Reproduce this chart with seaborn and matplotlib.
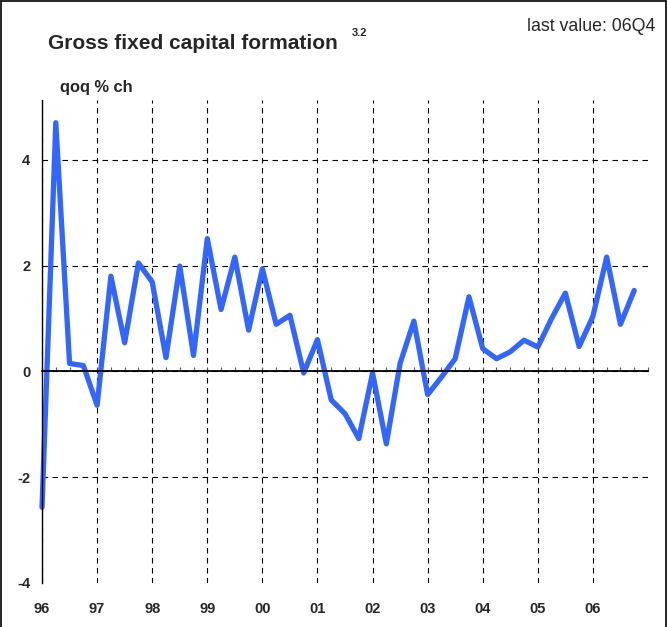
import numpy as np
import pandas as pd
import matplotlib
matplotlib.use('Agg')
import matplotlib.pyplot as plt
from matplotlib.lines import Line2D
from matplotlib.ticker import MultipleLocator, FixedLocator
import seaborn as sns

# ==============================================================================
# 01. Data
# ==============================================================================

quarters = pd.period_range('1996Q1', '2006Q4', freq='Q')
qoq_change = [-2.57, 4.70, 0.15, 0.11, -0.64, 1.80, 0.54, 2.05, 1.69, 0.26,
              1.99, 0.30, 2.51, 1.17, 2.16, 0.78, 1.94, 0.89, 1.06, -0.03,
              0.60, -0.54, -0.80, -1.27, -0.03, -1.37, 0.15, 0.95, -0.44, -0.11,
              0.24, 1.41, 0.43, 0.24, 0.37, 0.59, 0.46, 1.00, 1.48, 0.47,
              1.04, 2.16, 0.89, 1.53]
year_ticks = list(range(1996, 2007))
year_labels = ['96', '97', '98', '99', '00', '01', '02', '03', '04', '05', '06']
y_ticks = [-4, -2, 0, 2, 4]

df = pd.DataFrame({'t': quarters.year + (quarters.quarter - 1) / 4, 'value': qoq_change})

# ==============================================================================
# 02. Plot
# ==============================================================================

sns.set_style('white')
plt.rcParams['font.family'] = ['Liberation Sans', 'DejaVu Sans']
plt.rcParams['axes.unicode_minus'] = False

fig = plt.figure(figsize=(6.67, 6.27), dpi=100)
ax = fig.add_axes([0.063, 0.0702, 0.9085, 0.7703])

sns.lineplot(data=df, x='t', y='value', color='#3366FF', linewidth=3.8, ax=ax)
for line in ax.lines:
    line.set_clip_on(False)
    line.set_solid_joinstyle('round')
    line.set_solid_capstyle('round')

ax.set_xlim(1996, 2007)
ax.set_ylim(-4, 5.13)
ax.set_xlabel('')
ax.set_ylabel('')

# zero line acts as the x axis, with quarter ticks pointing up
for s in ['top', 'right']:
    ax.spines[s].set_visible(False)
ax.spines['bottom'].set_position(('data', 0))
ax.spines['bottom'].set_color('black')
ax.spines['bottom'].set_linewidth(1.3)
ax.spines['left'].set_color('black')
ax.spines['left'].set_linewidth(1.0)

ax.xaxis.set_major_locator(FixedLocator(year_ticks))
ax.xaxis.set_minor_locator(MultipleLocator(0.25))
ax.tick_params(axis='x', which='both', direction='in', length=3, width=0.8,
               color='#555555', labelbottom=False, bottom=True)

ax.set_yticks(y_ticks)
ax.tick_params(axis='y', direction='in', length=4, width=0.8, color='black',
               pad=8.5, labelsize=10.5)
plt.setp(ax.get_yticklabels(), fontweight='bold')

ax.grid(True, which='major', color='black', linestyle=(0, (5, 4)), linewidth=0.8)
ax.yaxis.get_gridlines()[0].set_visible(False)
ax.set_axisbelow(True)

# year labels sit at the bottom of the panel
sec = ax.secondary_xaxis('bottom')
sec.set_xticks(year_ticks, labels=year_labels)
sec.tick_params(length=0, pad=14, labelsize=10.5)
sec.spines['bottom'].set_visible(False)
plt.setp(sec.get_xticklabels(), fontweight='bold')

# ==============================================================================
# 03. Titles and frame
# ==============================================================================

fig.text(0.072, 0.930, 'Gross fixed capital formation', fontsize=15,
         fontweight='bold', va='center', ha='left')
fig.text(0.527, 0.947, '3.2', fontsize=8, fontweight='bold', va='center', ha='left')
fig.text(0.982, 0.957, 'last value: 06Q4', fontsize=12.8, va='center', ha='right')
fig.text(0.090, 0.861, 'qoq % ch', fontsize=11.8, fontweight='bold', va='center', ha='left')

for xs, ys in [([0.002, 0.002], [0, 0.998]), ([0.002, 0.998], [0.998, 0.998]),
               ([0.998, 0.998], [0.998, 0])]:
    fig.add_artist(Line2D(xs, ys, transform=fig.transFigure, color='black', linewidth=1.2))

plt.savefig('out.png', dpi=100)
